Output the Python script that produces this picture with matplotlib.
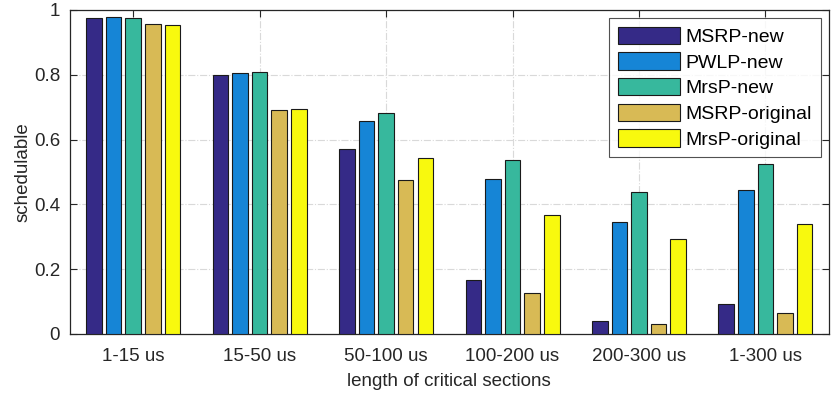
import numpy as np
import matplotlib.pyplot as plt

plt.rcParams['font.family'] = ['Liberation Sans', 'DejaVu Sans']

# schedulability ratio per critical-section length range
categories = ['1-15 us', '15-50 us', '50-100 us', '100-200 us', '200-300 us', '1-300 us']
series_names = ['MSRP-new', 'PWLP-new', 'MrsP-new', 'MSRP-original', 'MrsP-original']
msrp_new = [0.974, 0.799, 0.572, 0.167, 0.040, 0.092]
pwlp_new = [0.977, 0.805, 0.656, 0.477, 0.347, 0.443]
mrsp_new = [0.975, 0.809, 0.681, 0.537, 0.437, 0.524]
msrp_orig = [0.956, 0.692, 0.474, 0.127, 0.031, 0.065]
mrsp_orig = [0.955, 0.693, 0.542, 0.368, 0.292, 0.338]

series = [msrp_new, pwlp_new, mrsp_new, msrp_orig, mrsp_orig]
colors = ['#352a87', '#1685d6', '#37b89d', '#d8ba55', '#f8f90e']

fig = plt.figure(figsize=(8.31, 3.99), dpi=100)
ax = fig.add_axes([0.0842, 0.163, 0.913, 0.812])

x = np.arange(1, len(categories) + 1)
pitch = 0.155
width = 0.123
for i, (vals, c, name) in enumerate(zip(series, colors, series_names)):
    ax.bar(x + (i - 2) * pitch, vals, width, color=c, edgecolor='#1a1a1a',
           linewidth=0.8, label=name, zorder=3)

fs = 13.5
ax.set_xlim(0.5, 6.5)
ax.set_ylim(0, 1)
ax.set_xticks(x)
ax.set_xticklabels(categories)
ax.set_yticks([0, 0.2, 0.4, 0.6, 0.8, 1])
ax.set_yticklabels(['0', '0.2', '0.4', '0.6', '0.8', '1'])
ax.tick_params(direction='in', top=True, right=True, labelsize=fs,
               colors='#262626', length=5, width=0.8, pad=7)
ax.tick_params(axis='x', pad=10)
ax.grid(True, color='#d9d9d9', linestyle='-.', linewidth=0.8, zorder=0)
ax.set_axisbelow(True)
for sp in ax.spines.values():
    sp.set_color('#262626')
    sp.set_linewidth(0.9)

ax.set_xlabel('length of critical sections', fontsize=fs, color='#262626', labelpad=6)
ax.set_ylabel('schedulable', fontsize=fs, color='#262626', labelpad=2)

leg = ax.legend(loc='upper right', bbox_to_anchor=(0.9896, 0.975), fontsize=14,
                frameon=True, fancybox=False, edgecolor='#262626',
                handlelength=3.2, handleheight=1.0, handletextpad=0.3,
                labelspacing=0.32, borderpad=0.45, borderaxespad=0)
leg.get_frame().set_linewidth(0.8)

fig.savefig('out.png', dpi=100)
